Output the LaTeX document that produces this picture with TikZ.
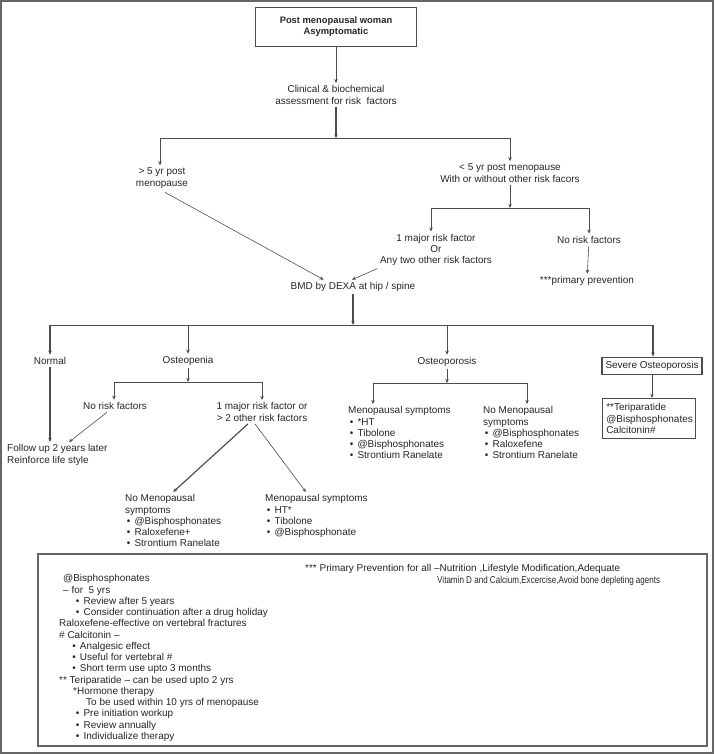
\documentclass[tikz,border=0pt]{standalone}
\usepackage{fontspec}
\setmainfont{Liberation Sans}
\usetikzlibrary{arrows.meta}
\newcommand{\bul}{\hspace*{1.5pt}\textbullet\hspace{3.5pt}}
\begin{document}
\begin{tikzpicture}[x=0.03cm,y=-0.03cm,->,color=black!70,line width=0.5pt,
    >={Stealth[length=3.5pt,width=3pt]},
    every node/.style={font=\fontsize{8.5}{9.6}\selectfont,text=black!85,inner sep=2pt},
    lst/.style={align=left,anchor=north west},
    fat/.style={line width=1pt}]
  \useasboundingbox (0,0) rectangle (714,754);
  \draw[-,black!60,line width=1pt] (1,1) rectangle (713,753);
  \draw[-,black!60,line width=1pt] (38,554) rectangle (707,746);

  % top part
  \node[draw,line width=0.8pt,minimum width=4.83cm,minimum height=1.17cm,align=center,
    font=\fontsize{8}{9.6}\selectfont\bfseries] (top) at (336,26.5) {Post menopausal woman\\Asymptomatic};
  \node[align=center] (clin) at (336,95) {Clinical \& biochemical\\assessment for risk\ \ factors};
  \node[align=center] (gt5) at (162,178) {> 5 yr post\\menopause};
  \node[align=center] (lt5) at (510,173) {< 5 yr post menopause\\With or without other risk facors};
  \node[align=center] (maj) at (436,250) {1 major risk factor\\Or\\Any two other risk factors};
  \node (nrf) at (589,240) {No risk factors};
  \node (prim) at (587,281) {***primary prevention};
  \node (bmd) at (353,287) {BMD by DEXA at hip / spine};
  \coordinate (b1l) at (160,138);
  \coordinate (b1r) at (510,138);
  \coordinate (b2l) at (431,208);
  \coordinate (b2r) at (589,208);
  \draw (top) -- (clin);
  \draw[fat] (clin) -- (clin |- b1l);
  \draw[-] (b1l) -- (b1r);
  \draw (b1l) -- (b1l |- gt5.north);
  \draw (b1r) -- (b1r |- lt5.north);
  \draw (lt5) -- (lt5 |- b2l);
  \draw[-] (b2l) -- (b2r);
  \draw (b2l) -- (b2l |- maj.north);
  \draw (b2r) -- (nrf);
  \draw (nrf) -- (prim);
  \draw[shorten <=3pt] (gt5.south) -- ([xshift=-25pt]bmd.north);
  \draw (maj.south west) -- ([xshift=-1pt]bmd.north);

  % BMD results
  \node (norm) at (50,361) {Normal};
  \node (openia) at (188,361) {Osteopenia};
  \node (oporo) at (447,362) {Osteoporosis};
  \node[draw,line width=1.2pt,inner xsep=3pt,inner ysep=3.5pt] (sev) at (652,366) {Severe Osteoporosis};
  \node[draw,lst,text width=2.55cm,inner xsep=0.12cm,inner ysep=4.5pt] (sevrx) at (602,398)
    {**Teriparatide\\@Bisphosphonates\\Calcitonin\#};
  \coordinate (b3l) at (50,325);
  \coordinate (b3r) at (653,325);
  \draw[fat] (bmd) -- (bmd |- b3l);
  \draw[-] (b3l) -- (b3r);
  \draw[fat] (b3l) -- (b3l |- norm.north);
  \draw (openia |- b3l) -- (openia);
  \draw (oporo |- b3l) -- (oporo);
  \draw[fat] (b3r) -- (b3r |- sev.north);
  \draw (sev) -- (sev |- sevrx.north);

  % osteopenia
  \node (nrf2) at (115,406) {No risk factors};
  \node[align=center] (maj2) at (262,412) {1 major risk factor or\\> 2 other risk factors};
  \node[lst] (fup) at (4.6,442) {Follow up 2 years later\\Reinforce life style};
  \node[lst] (nomen) at (122.6,492) {No Menopausal\\symptoms\\\bul @Bisphosphonates\\\bul Raloxefene+\\\bul Strontium Ranelate};
  \node[lst] (men) at (262.6,492) {Menopausal symptoms\\\bul HT*\\\bul Tibolone\\\bul @Bisphosphonate};
  \coordinate (b4l) at (114,382);
  \coordinate (b4r) at (262,382);
  \draw[fat] (norm) -- (norm |- fup.north);
  \draw (openia) -- (openia |- b4l);
  \draw[-] (b4l) -- (b4r);
  \draw (b4l) -- (b4l |- nrf2.north);
  \draw (b4r) -- (maj2);
  \draw (nrf2) -- ([xshift=10pt]fup.north);
  \draw[fat] ([xshift=-12pt]maj2.south) -- (nomen.north);
  \draw ([xshift=-6pt]maj2.south) -- ([xshift=-9pt]men.north);

  % osteoporosis
  \node[lst] (men2) at (345.6,404) {Menopausal symptoms\\\bul *HT\\\bul Tibolone\\\bul @Bisphosphonates\\\bul Strontium Ranelate};
  \node[lst] (nomen2) at (480.6,404) {No Menopausal\\symptoms\\\bul @Bisphosphonates\\\bul Raloxefene\\\bul Strontium Ranelate};
  \coordinate (b5l) at (373,383);
  \coordinate (b5r) at (527,383);
  \draw (oporo) -- (oporo |- b5l);
  \draw[-] (b5l) -- (b5r);
  \draw (b5l) -- (b5l |- men2.north);
  \draw (b5r) -- (b5r |- nomen2.north);

  % notes
  \node[lst] (prev) at (302.6,562) {*** Primary Prevention for all –Nutrition ,Lifestyle Modification,Adequate\\
    \hspace*{3.96cm}\scalebox{0.81}[1]{Vitamin D and Calcium,Excercise,Avoid bone depleting agents}};
  \node[lst] (notes) at (56.6,572) {\hspace*{0.12cm}@Bisphosphonates\\
    \hspace*{0.12cm}– for\ \ 5 yrs\\
    \hspace*{0.45cm}\bul Review after 5 years\\
    \hspace*{0.45cm}\bul Consider continuation after a drug holiday\\
    Raloxefene-effective on vertebral fractures\\
    \# Calcitonin –\\
    \hspace*{0.34cm}\bul Analgesic effect\\
    \hspace*{0.34cm}\bul Useful for vertebral \#\\
    \hspace*{0.34cm}\bul Short term use upto 3 months\\
    ** Teriparatide – can be used upto 2 yrs\\
    \hspace*{0.42cm}*Hormone therapy\\
    \hspace*{0.81cm}To be used within 10 yrs of menopause\\
    \hspace*{0.45cm}\bul Pre initiation workup\\
    \hspace*{0.45cm}\bul Review annually\\
    \hspace*{0.45cm}\bul Individualize therapy};
\end{tikzpicture}
\end{document}
